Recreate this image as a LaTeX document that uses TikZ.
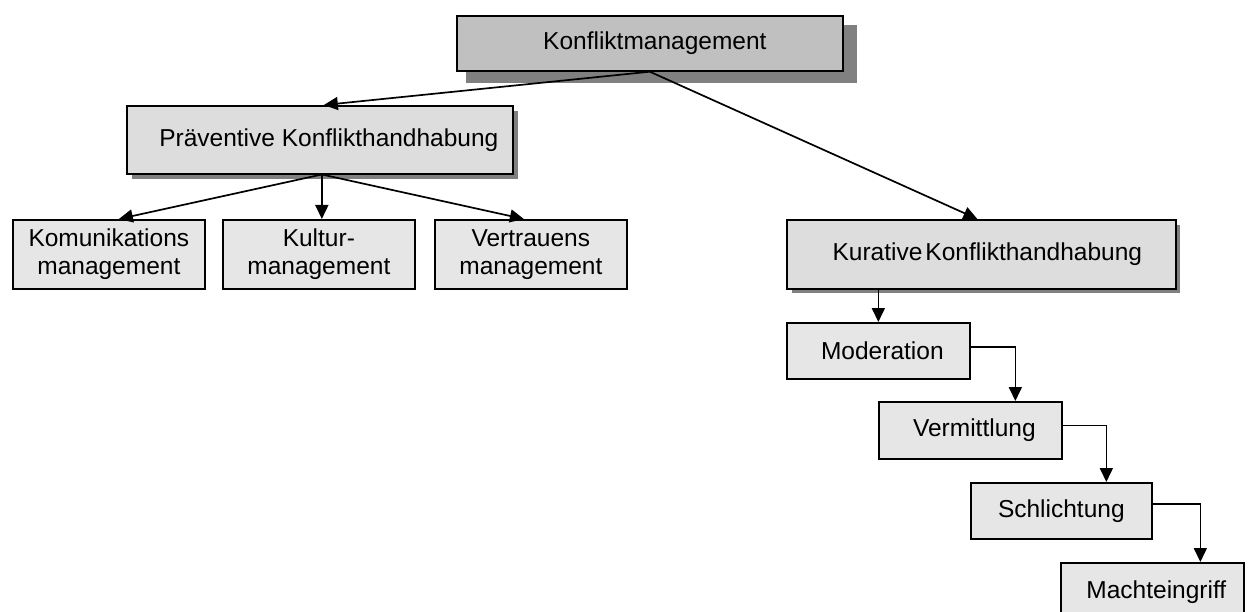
\documentclass[tikz,border=0pt]{standalone}
\usepackage{fontspec}
\setmainfont{Liberation Sans}
\usetikzlibrary{arrows.meta}
\definecolor{lvlone}{HTML}{C0C0C0}
\definecolor{lvltwo}{HTML}{DDDDDD}
\definecolor{lvlthree}{HTML}{E6E6E6}
\definecolor{shadowgray}{HTML}{808080}
\begin{document}
\begin{tikzpicture}[x=1pt,y=-1pt,
  box/.style={draw=black, line width=1.7pt, anchor=north west, inner sep=0pt,
    font=\fontsize{24.5}{28}\selectfont, align=center},
  arr/.style={line width=1.7pt, -{Triangle[length=14pt,width=13pt]}}]
\useasboundingbox (0,0) rectangle (1249,612);
% shadows
\fill[shadowgray] (466,25) rectangle (857,83);
\fill[shadowgray] (132,111) rectangle (518,179);
\fill[shadowgray] (792,225) rectangle (1180,293);
% nodes
\node[box, fill=lvlone, minimum width=386pt, minimum height=55pt] (K) at (456,15) {\hspace*{10pt}Konfliktmanagement};
\node[box, fill=lvltwo, minimum width=386pt, minimum height=68pt] (P) at (126,105) {\hspace*{18pt}Präventive Konflikthandhabung};
\node[box, fill=lvltwo, minimum width=389pt, minimum height=69pt] (Ku) at (786,219) {\hspace*{12pt}Kurative\hspace{3pt}Konflikthandhabung};
\node[box, fill=lvlthree, minimum width=192pt, minimum height=69pt] (Kom) at (12,219) {Komunikations\\management};
\node[box, fill=lvlthree, minimum width=192pt, minimum height=69pt] (Kul) at (222,219) {Kultur-\\management};
\node[box, fill=lvlthree, minimum width=192pt, minimum height=69pt] (Ver) at (434,219) {Vertrauens\\management};
\node[box, fill=lvlthree, minimum width=183pt, minimum height=56pt] (Mod) at (786,322) {\hspace*{8pt}Moderation};
\node[box, fill=lvlthree, minimum width=183pt, minimum height=57pt] (Verm) at (878,401) {\hspace*{8pt}Vermittlung};
\node[box, fill=lvlthree, minimum width=181pt, minimum height=56pt] (Sch) at (970,482) {Schlichtung};
\node[box, fill=lvlthree, minimum width=183pt, minimum height=58pt] (Mach) at (1060,562) {\hspace*{8pt}Machteingriff};
% connectors
\draw[arr] (K.south) -- ([xshift=4pt]P.north);
\draw[arr] (K.south) -- ([xshift=-4pt]Ku.north);
\draw[arr] ([xshift=1pt]P.south) -- ([xshift=10pt]Kom.north);
\draw[arr] ([xshift=2pt]P.south) -- ([xshift=3pt]Kul.north);
\draw[arr] ([xshift=3pt]P.south) -- ([xshift=-7pt]Ver.north);
\draw[arr] (Mod.north |- Ku.south) -- (Mod.north);
\draw[arr] ([yshift=4pt]Mod.east) -| ([xshift=45pt]Verm.north);
\draw[arr] ([yshift=5pt]Verm.east) -| ([xshift=45pt]Sch.north);
\draw[arr] ([yshift=7pt]Sch.east) -| ([xshift=48pt]Mach.north);
\end{tikzpicture}
\end{document}
